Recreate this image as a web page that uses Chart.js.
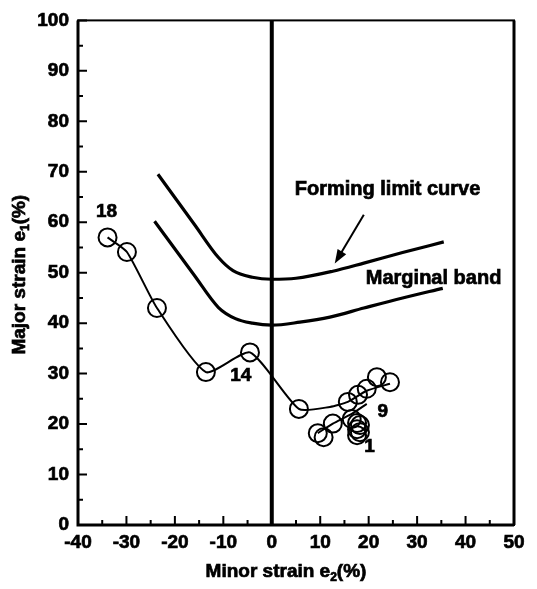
<!DOCTYPE html>
<html>
<head>
<meta charset="utf-8">
<title>Forming limit diagram</title>
<script src="https://cdn.jsdelivr.net/npm/chart.js@4.4.1/dist/chart.umd.min.js"></script>
<style>
  html, body { margin: 0; padding: 0; background: #fff; }
  #wrap { width: 537px; height: 589px; }
</style>
</head>
<body>
<div id="wrap"><canvas id="flc" width="537" height="589"></canvas></div>
<script>
const xTicks = [-40, -30, -20, -10, 0, 10, 20, 30, 40, 50];
const yTicks = [0, 10, 20, 30, 40, 50, 60, 70, 80, 90, 100];

// forming limit curve (minor strain e2, major strain e1)
const flcE2 = [-23.5, -16, -11, -8, -4, 0, 5, 12.6, 19, 27, 35.5];
const flcE1 = [69.5, 59.6, 53.0, 50.4, 49.1, 48.7, 48.9, 50.3, 51.9, 54, 56.1];

// marginal band below the FLC
const bandE2 = [-24.2, -16, -11, -7.5, -4, 0, 5.8, 12, 19, 27, 35.3];
const bandE1 = [60.2, 49.5, 43.1, 40.9, 40, 39.6, 40.2, 41.2, 43, 45, 46.9];

// measured strains
const ptE2 = [-33.9, -29.9, -23.7, -13.6, -4.5, 5.6, 15.7, 17.8, 19.6, 21.7, 24.4,
              9.5, 10.7, 12.6, 16.5, 17.6, 18.2, 17.6, 18.2, 17.6];
const ptE1 = [57.0, 54.1, 43.0, 30.3, 34.2, 23.0, 24.4, 25.8, 27.0, 29.3, 28.3,
              18.2, 17.4, 20.1, 21.0, 20.2, 19.8, 19.0, 18.4, 17.8];

// path drawn through the measured points
const pathE2 = [-33.9, -29.9, -23.7, -13.6, -4.5, 5.6, 12, 15.7, 19.6, 24.4];
const pathE1 = [57.0, 54.1, 43.0, 30.3, 34.2, 23.0, 23.4, 24.4, 26.6, 28.0];
const path2E2 = [9.5, 12.6, 16.5, 19.6];
const path2E1 = [18.2, 20.1, 22.0, 24.0];

// point numbers
const numText = ['18', '14', '9', '1'];
const numE2 = [-34.1, -6.4, 22.9, 20.2];
const numE1 = [62.1, 29.5, 22.5, 15.6];

const FONT = '"Liberation Sans", Arial, Helvetica, sans-serif';

const toXY = (xs, ys) => xs.map((x, i) => ({ x: x, y: ys[i] }));

// heavy text: fill plus a thin stroke
function heavyText(ctx, t, x, y) {
  ctx.fillText(t, x, y);
  ctx.strokeText(t, x, y);
}

// draws text pieces where some are subscripts, centred on (cx, cy)
function drawSubText(ctx, parts, cx, cy, size) {
  const subSize = Math.round(size * 0.62);
  let total = 0;
  parts.forEach((p) => {
    ctx.font = 'bold ' + (p.sub ? subSize : size) + 'px ' + FONT;
    p.w = ctx.measureText(p.t).width;
    total += p.w;
  });
  let x = cx - total / 2;
  ctx.textBaseline = 'middle';
  ctx.textAlign = 'left';
  parts.forEach((p) => {
    ctx.font = 'bold ' + (p.sub ? subSize : size) + 'px ' + FONT;
    heavyText(ctx, p.t, x, p.sub ? cy + size * 0.3 : cy);
    x += p.w;
  });
}

const frame = {
  id: 'frame',
  beforeDatasetsDraw(chart) {
    const ctx = chart.ctx;
    const a = chart.chartArea;
    const x0 = chart.scales.x.getPixelForValue(0);
    ctx.save();
    ctx.strokeStyle = '#000';
    ctx.lineWidth = 4;
    ctx.beginPath();
    ctx.moveTo(x0, a.top);
    ctx.lineTo(x0, a.bottom);
    ctx.stroke();
    ctx.restore();
  },
  afterDatasetsDraw(chart) {
    const ctx = chart.ctx;
    const a = chart.chartArea;
    const sx = chart.scales.x;
    const sy = chart.scales.y;
    ctx.save();
    ctx.strokeStyle = '#000';
    ctx.fillStyle = '#000';

    // box
    ctx.lineWidth = 2;
    ctx.strokeRect(a.left, a.top, a.right - a.left, a.bottom - a.top);
    ctx.lineWidth = 3;
    ctx.beginPath();
    ctx.moveTo(a.left, a.top);
    ctx.lineTo(a.left, a.bottom);
    ctx.lineTo(a.right, a.bottom);
    ctx.moveTo(a.right, a.top);
    ctx.lineTo(a.right, a.bottom);
    ctx.stroke();

    // inward ticks
    ctx.lineWidth = 2;
    ctx.beginPath();
    for (let v = -40; v <= 50; v += 5) {
      const px = sx.getPixelForValue(v);
      const len = v % 10 === 0 ? 9 : 5;
      ctx.moveTo(px, a.bottom);
      ctx.lineTo(px, a.bottom - len);
    }
    for (let v = 0; v <= 100; v += 5) {
      const py = sy.getPixelForValue(v);
      const len = v % 10 === 0 ? 9 : 5;
      ctx.moveTo(a.left, py);
      ctx.lineTo(a.left + len, py);
    }
    ctx.stroke();

    ctx.lineWidth = 0.7;

    // point numbers
    ctx.font = 'bold 19px ' + FONT;
    ctx.textAlign = 'center';
    ctx.textBaseline = 'middle';
    numText.forEach((t, i) => {
      heavyText(ctx, t, sx.getPixelForValue(numE2[i]), sy.getPixelForValue(numE1[i]));
    });

    // curve labels
    ctx.font = 'bold 20px ' + FONT;
    heavyText(ctx, 'Forming limit curve', sx.getPixelForValue(23.9), sy.getPixelForValue(66.4));
    heavyText(ctx, 'Marginal band', sx.getPixelForValue(33.4), sy.getPixelForValue(48.8));

    // arrow towards the FLC
    const ax1 = sx.getPixelForValue(19), ay1 = sy.getPixelForValue(61.5);
    const ax2 = sx.getPixelForValue(13), ay2 = sy.getPixelForValue(51.8);
    const ang = Math.atan2(ay2 - ay1, ax2 - ax1);
    ctx.lineWidth = 2;
    ctx.beginPath();
    ctx.moveTo(ax1, ay1);
    ctx.lineTo(ax2 - 10 * Math.cos(ang), ay2 - 10 * Math.sin(ang));
    ctx.stroke();
    ctx.beginPath();
    ctx.moveTo(ax2, ay2);
    ctx.lineTo(ax2 - 14 * Math.cos(ang) + 5 * Math.sin(ang), ay2 - 14 * Math.sin(ang) - 5 * Math.cos(ang));
    ctx.lineTo(ax2 - 14 * Math.cos(ang) - 5 * Math.sin(ang), ay2 - 14 * Math.sin(ang) + 5 * Math.cos(ang));
    ctx.closePath();
    ctx.fill();

    // axis titles
    ctx.lineWidth = 0.7;
    drawSubText(ctx, [{ t: 'Minor strain e' }, { t: '2', sub: true }, { t: '(%)' }],
      (a.left + a.right) / 2 - 10, 572, 19);
    ctx.translate(20, (a.top + a.bottom) / 2 + 2);
    ctx.rotate(-Math.PI / 2);
    drawSubText(ctx, [{ t: 'Major strain e' }, { t: '1', sub: true }, { t: '(%)' }], 0, 0, 19);
    ctx.restore();
  }
};

new Chart(document.getElementById('flc'), {
  type: 'scatter',
  data: {
    datasets: [
      {
        label: 'Forming limit curve',
        data: toXY(flcE2, flcE1),
        showLine: true,
        borderColor: '#000',
        borderWidth: 3.2,
        pointRadius: 0,
        cubicInterpolationMode: 'monotone',
      },
      {
        label: 'Marginal band',
        data: toXY(bandE2, bandE1),
        showLine: true,
        borderColor: '#000',
        borderWidth: 3.2,
        pointRadius: 0,
        cubicInterpolationMode: 'monotone',
      },
      {
        label: 'path',
        data: toXY(pathE2, pathE1),
        showLine: true,
        borderColor: '#000',
        borderWidth: 2,
        pointRadius: 0,
        tension: 0.2,
      },
      {
        label: 'path2',
        data: toXY(path2E2, path2E1),
        showLine: true,
        borderColor: '#000',
        borderWidth: 2,
        pointRadius: 0,
        tension: 0.2,
      },
      {
        label: 'Measured',
        data: toXY(ptE2, ptE1),
        pointRadius: 9,
        pointBorderWidth: 2,
        pointBorderColor: '#000',
        pointBackgroundColor: 'rgba(0,0,0,0)',
      },
    ],
  },
  options: {
    responsive: false,
    animation: false,
    layout: { padding: { top: 13, right: 23, left: 0, bottom: 0 } },
    plugins: {
      legend: { display: false },
      tooltip: { enabled: false },
    },
    scales: {
      x: {
        type: 'linear',
        min: -40,
        max: 50,
        afterBuildTicks: (s) => { s.ticks = xTicks.map((v) => ({ value: v })); },
        afterFit: (s) => { s.height = 64; },
        grid: { display: false, drawTicks: false },
        border: { display: false },
        ticks: {
          color: '#000',
          padding: 6,
          maxRotation: 0,
          textStrokeColor: '#000',
          textStrokeWidth: 0.7,
          font: { family: FONT, size: 19, weight: 'bold' },
        },
      },
      y: {
        type: 'linear',
        min: 0,
        max: 100,
        afterBuildTicks: (s) => { s.ticks = yTicks.map((v) => ({ value: v })); },
        afterFit: (s) => { s.width = 78; },
        grid: { display: false, drawTicks: false },
        border: { display: false },
        ticks: {
          color: '#000',
          padding: 9,
          textStrokeColor: '#000',
          textStrokeWidth: 0.7,
          font: { family: FONT, size: 19, weight: 'bold' },
        },
      },
    },
  },
  plugins: [frame],
});
</script>
</body>
</html>
